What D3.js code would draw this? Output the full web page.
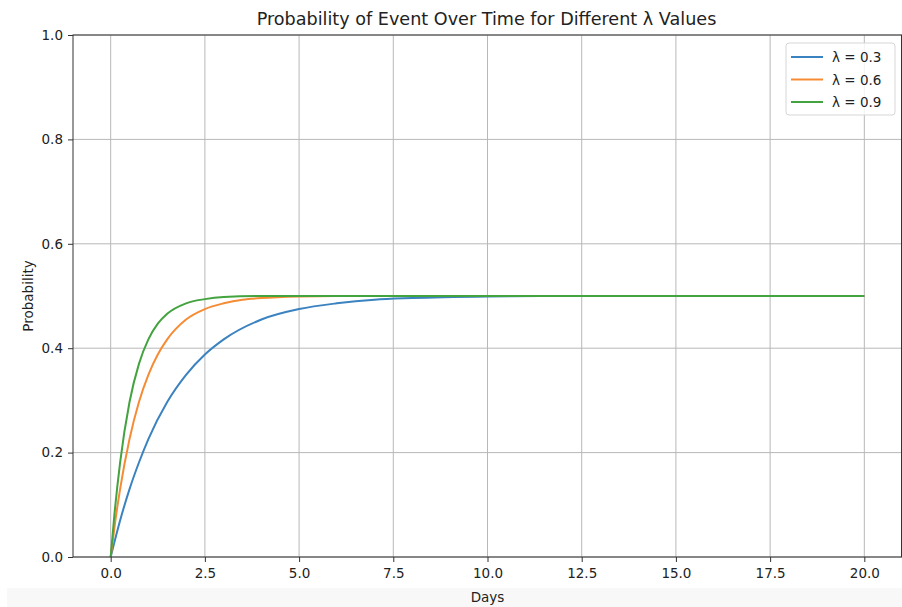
<!DOCTYPE html>
<html>
<head>
<meta charset="utf-8">
<script src="https://cdn.jsdelivr.net/npm/d3@7"></script>
<style>
  body { margin: 0; background: #fff; }
  svg { display: block; font-family: "DejaVu Sans", sans-serif; }
</style>
</head>
<body>
<div id="chart"></div>
<script>
// values
var lambdas = ["0.3", "0.6", "0.9"];
var colors = ["#3a82c0", "#f58c35", "#43a33f"];

var daysBlue = [0, 0.25, 0.5, 0.75, 1, 1.5, 2, 2.5, 3, 4, 5, 6, 7, 8, 10, 12, 15, 20];
var probBlue = [0, 0.070, 0.130, 0.181, 0.226, 0.297, 0.349, 0.388, 0.417, 0.455, 0.475, 0.486, 0.493, 0.496, 0.499, 0.5, 0.5, 0.5];

var daysOrange = [0, 0.125, 0.25, 0.5, 0.75, 1, 1.25, 1.5, 2, 2.5, 3, 3.5, 4, 5, 6, 10, 20];
var probOrange = [0, 0.070, 0.130, 0.226, 0.297, 0.349, 0.388, 0.417, 0.455, 0.475, 0.486, 0.493, 0.496, 0.499, 0.5, 0.5, 0.5];

var daysGreen = [0, 0.1, 0.25, 0.5, 0.75, 1, 1.25, 1.5, 2, 2.5, 3, 4, 10, 20];
var probGreen = [0, 0.082, 0.181, 0.297, 0.370, 0.417, 0.447, 0.466, 0.486, 0.494, 0.498, 0.5, 0.5, 0.5];

var xTicks = [0, 2.5, 5, 7.5, 10, 12.5, 15, 17.5, 20];
var yTicks = [0, 0.2, 0.4, 0.6, 0.8, 1.0];

var series = [
  {days: daysBlue, prob: probBlue},
  {days: daysOrange, prob: probOrange},
  {days: daysGreen, prob: probGreen}
];

var W = 902, H = 607;
var margin = {top: 35, right: 0, bottom: 50, left: 73},
    width = 902 - margin.left - margin.right,
    height = 557 - margin.top;

var root = d3.select("#chart").append("svg")
  .attr("width", W)
  .attr("height", H);

// light strip at the very bottom of the screenshot
root.append("rect")
  .attr("x", 7).attr("y", 588)
  .attr("width", W - 7).attr("height", H - 588)
  .attr("fill", "#f8f8f8");

var svg = root.append("g")
  .attr("transform", "translate(" + margin.left + "," + margin.top + ")");

var x = d3.scaleLinear().domain([-1, 21]).range([0, width]);
var y = d3.scaleLinear().domain([0, 1]).range([height, 0]);

// grid
svg.append("g").selectAll("line")
  .data(xTicks).enter().append("line")
    .attr("x1", function(d) { return x(d); })
    .attr("x2", function(d) { return x(d); })
    .attr("y1", 0).attr("y2", height)
    .attr("stroke", "#b8b8b8").attr("stroke-width", 1);
svg.append("g").selectAll("line")
  .data(yTicks).enter().append("line")
    .attr("y1", function(d) { return y(d); })
    .attr("y2", function(d) { return y(d); })
    .attr("x1", 0).attr("x2", width)
    .attr("stroke", "#b8b8b8").attr("stroke-width", 1);

// lines
var line = d3.line()
  .x(function(d) { return x(d[0]); })
  .y(function(d) { return y(d[1]); })
  .curve(d3.curveMonotoneX);

series.forEach(function(s, i) {
  var pts = s.days.map(function(t, j) { return [t, s.prob[j]]; });
  svg.append("path")
    .datum(pts)
    .attr("d", line)
    .attr("fill", "none")
    .attr("stroke", colors[i])
    .attr("stroke-width", 2);
});

// frame
svg.append("rect")
  .attr("x", 0).attr("y", 0)
  .attr("width", width - 0.5).attr("height", height)
  .attr("fill", "none")
  .attr("stroke", "#333").attr("stroke-width", 1);

// axes
var xAxis = svg.append("g")
  .attr("transform", "translate(0," + height + ")")
  .call(d3.axisBottom(x).tickValues(xTicks).tickFormat(d3.format(".1f")).tickSize(5).tickPadding(6));
var yAxis = svg.append("g")
  .call(d3.axisLeft(y).tickValues(yTicks).tickFormat(d3.format(".1f")).tickSize(5).tickPadding(5));

[xAxis, yAxis].forEach(function(a) {
  a.select(".domain").remove();
  a.selectAll("line").attr("stroke", "#333");
  a.selectAll("text")
    .attr("fill", "#222")
    .style("font-family", "DejaVu Sans")
    .style("font-size", "13.5px");
});

// title and labels
root.append("text")
  .attr("x", margin.left + width / 2 - 1)
  .attr("y", 25)
  .attr("text-anchor", "middle")
  .style("font-size", "17.6px")
  .attr("fill", "#222")
  .text("Probability of Event Over Time for Different λ Values");

root.append("text")
  .attr("x", margin.left + width / 2 + 0)
  .attr("y", 602)
  .attr("text-anchor", "middle")
  .style("font-size", "13.5px")
  .attr("fill", "#222")
  .text("Days");

root.append("text")
  .attr("transform", "translate(32.5," + (margin.top + height / 2) + ") rotate(-90)")
  .attr("text-anchor", "middle")
  .style("font-size", "13.5px")
  .attr("fill", "#222")
  .text("Probability");

// legend
var legend = root.append("g").attr("transform", "translate(786,43)");
legend.append("rect")
  .attr("width", 109).attr("height", 72)
  .attr("rx", 3)
  .attr("fill", "#fff").attr("fill-opacity", 0.8)
  .attr("stroke", "#d6d6d6");

lambdas.forEach(function(l, i) {
  var g = legend.append("g").attr("transform", "translate(0," + (14 + i * 22.5) + ")");
  g.append("line")
    .attr("x1", 5).attr("x2", 37)
    .attr("stroke", colors[i]).attr("stroke-width", 2);
  g.append("text")
    .attr("x", 46).attr("y", 5)
    .style("font-size", "13.5px")
    .attr("fill", "#222")
    .text("λ = " + l);
});
</script>
</body>
</html>
